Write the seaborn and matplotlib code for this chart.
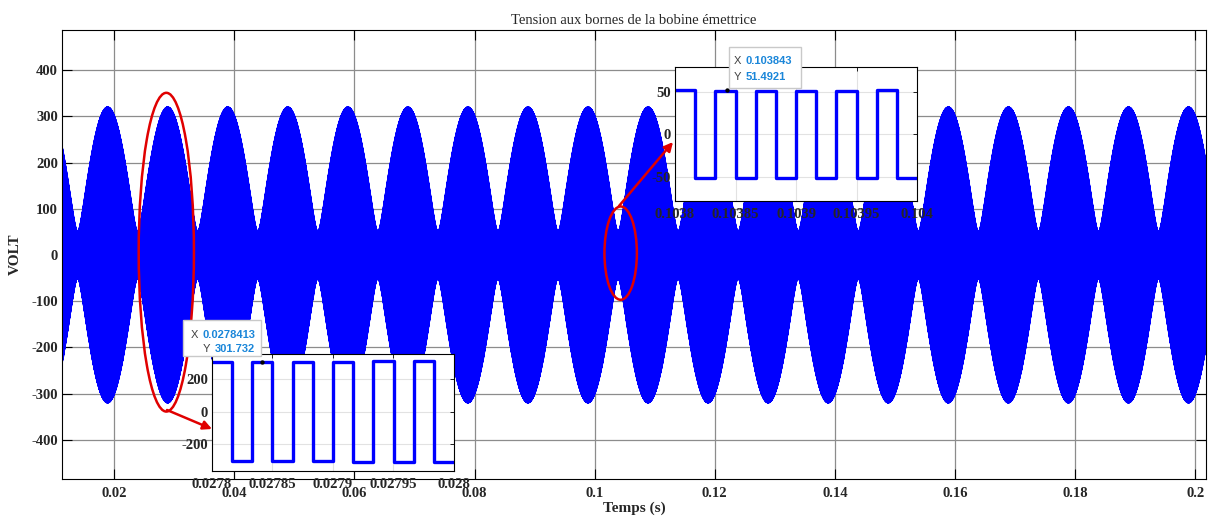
import numpy as np
import pandas as pd
import matplotlib
matplotlib.use("Agg")
import matplotlib.pyplot as plt
import seaborn as sns
from matplotlib.patches import Ellipse, FancyArrowPatch, Rectangle
from matplotlib.font_manager import FontProperties
from matplotlib.text import Annotation

# ---------------- data ----------------
TITLE = "Tension aux bornes de la bobine émettrice"
XLABEL = "Temps (s)"
YLABEL = "VOLT"

T_START, T_END = 0.0113, 0.2018          # visible time span (s)
CARRIER_HZ = 30000                        # square-wave carrier frequency
ENV_MAX = 320.0                           # envelope maximum (V)
ENV_MIN = 51.0                            # envelope minimum (V)
ENV_PERIOD = 0.01                         # beat period (s)
ENV_PEAK_T = 0.0289                       # time of one envelope maximum (s)

main_xticks = [0.02, 0.04, 0.06, 0.08, 0.1, 0.12, 0.14, 0.16, 0.18, 0.2]
main_xticklabels = ["0.02", "0.04", "0.06", "0.08", "0.1", "0.12", "0.14", "0.16", "0.18", "0.2"]
main_yticks = [-400, -300, -200, -100, 0, 100, 200, 300, 400]
main_ylim = (-485, 487)

zoom1_window = (0.0278, 0.028)
zoom1_xticks = [0.0278, 0.02785, 0.0279, 0.02795, 0.028]
zoom1_xticklabels = ["0.0278", "0.02785", "0.0279", "0.02795", "0.028"]
zoom1_yticks = [-200, 0, 200]
zoom1_ylim = (-363, 351)

zoom2_window = (0.1038, 0.104)
zoom2_xticks = [0.1038, 0.10385, 0.1039, 0.10395, 0.104]
zoom2_xticklabels = ["0.1038", "0.10385", "0.1039", "0.10395", "0.104"]
zoom2_yticks = [-50, 0, 50]
zoom2_ylim = (-78.5, 79)

tip1_x, tip1_y = 0.0278413, 301.732
tip1_text = ("0.0278413", "301.732")
tip2_x, tip2_y = 0.103843, 51.4921
tip2_text = ("0.103843", "51.4921")


def envelope(t):
    a = (ENV_MAX + ENV_MIN) / 2.0
    b = (ENV_MAX - ENV_MIN) / 2.0
    return np.sqrt(a * a + b * b + 2 * a * b * np.cos(2 * np.pi * (t - ENV_PEAK_T) / ENV_PERIOD))


def square_signal(t0, t1):
    half = 0.5 / CARRIER_HZ
    k0 = int(np.floor(t0 / half + 1e-6))
    k1 = int(np.ceil(t1 / half - 1e-6))
    k = np.arange(k0, k1)
    starts = k * half
    ends = (k + 1) * half
    sign = np.where(k % 2 == 0, 1.0, -1.0)
    v = sign * envelope(starts + half / 2)
    t = np.clip(np.column_stack([starts, ends]).ravel(), t0, t1)
    y = np.repeat(v, 2)
    return pd.DataFrame({"t": t, "v": y})


main_df = square_signal(T_START, T_END)
z1_df = square_signal(*zoom1_window)
z2_df = square_signal(*zoom2_window)

# ---------------- styling ----------------
sns.set_theme(style="white")
plt.rcParams["font.family"] = ["Liberation Serif", "DejaVu Serif"]
plt.rcParams["axes.edgecolor"] = "black"
plt.rcParams["axes.linewidth"] = 0.8

BLUE = "#0000ff"
RED = "#e00000"
TICKFONT = dict(family=["Liberation Serif", "DejaVu Serif"], weight="bold", size=10.5)

W, H = 1210, 522
fig = plt.figure(figsize=(W / 100, H / 100), dpi=100)


def px_rect(x0, y0, x1, y1):
    return [x0 / W, 1 - y1 / H, (x1 - x0) / W, (y1 - y0) / H]


def fig_pt(x, y):
    return (x / W, 1 - y / H)


# ---------------- main axes ----------------
ax = fig.add_axes(px_rect(62, 30, 1206, 479))
ax.set_axisbelow(True)
ax.grid(True, color="#8c8c8c", lw=0.9)
sns.lineplot(data=main_df, x="t", y="v", estimator=None, sort=False,
             color=BLUE, lw=1.0, ax=ax)
ax.set_xlim(T_START, T_END)
ax.set_ylim(*main_ylim)
ax.set_xticks(main_xticks)
ax.set_xticklabels(main_xticklabels)
ax.set_yticks(main_yticks)
ax.set_yticklabels([str(v) for v in main_yticks])
ax.tick_params(direction="in", length=7, width=0.8, color="black",
               top=True, right=True, bottom=True, left=True)
ax.tick_params(axis="x", pad=6)
ax.tick_params(axis="y", pad=3)
for lab in ax.get_xticklabels() + ax.get_yticklabels():
    lab.set_fontproperties(FontProperties(**TICKFONT))
for s in ax.spines.values():
    s.set_visible(True)
    s.set_color("black")
ax.set_title(TITLE, fontsize=10.5, fontweight="normal", pad=4,
             family=["Liberation Serif", "DejaVu Serif"])
ax.set_xlabel(XLABEL, fontsize=11, fontweight="bold")
ax.set_ylabel(YLABEL, fontsize=11, fontweight="bold")
ax.xaxis.set_label_coords(0.5, -0.05)
ax.yaxis.set_label_coords(-0.035, 0.5)

# red ellipses around the zoomed regions
ax.add_patch(Ellipse((0.02867, 6), 0.0092, 690, fill=False, ec=RED, lw=1.8, zorder=5))
ax.add_patch(Ellipse((0.10433, 4), 0.0054, 202, fill=False, ec=RED, lw=1.8, zorder=5))


# ---------------- insets ----------------
def make_inset(rect, df, window, xticks, xticklabels, yticks, ylim):
    ia = fig.add_axes(rect)
    ia.set_facecolor("white")
    ia.set_axisbelow(True)
    ia.grid(True, color="#e2e2e2", lw=0.8)
    sns.lineplot(data=df, x="t", y="v", estimator=None, sort=False,
                 color=BLUE, lw=2.4, ax=ia)
    ia.set_xlim(*window)
    ia.set_ylim(*ylim)
    ia.set_xticks(xticks)
    ia.set_xticklabels(xticklabels)
    ia.set_yticks(yticks)
    ia.set_yticklabels([str(v) for v in yticks])
    ia.tick_params(direction="in", length=3, width=0.6, color="black",
                   top=True, right=True)
    ia.tick_params(axis="x", pad=5)
    ia.tick_params(axis="y", pad=3)
    for lab in ia.get_xticklabels() + ia.get_yticklabels():
        lab.set_fontproperties(FontProperties(**TICKFONT))
    ia.set_xlabel("")
    ia.set_ylabel("")
    for s in ia.spines.values():
        s.set_visible(True)
        s.set_color("black")
        s.set_linewidth(0.8)
    return ia


ia1 = make_inset(px_rect(212, 354, 454, 471), z1_df, zoom1_window,
                 zoom1_xticks, zoom1_xticklabels, zoom1_yticks, zoom1_ylim)
ia2 = make_inset(px_rect(675, 67, 917, 201), z2_df, zoom2_window,
                 zoom2_xticks, zoom2_xticklabels, zoom2_yticks, zoom2_ylim)

sns.scatterplot(x=[tip1_x], y=[tip1_y], color="black", s=10, ax=ia1, zorder=6, linewidth=0)
sns.scatterplot(x=[tip2_x], y=[tip2_y], color="black", s=10, ax=ia2, zorder=6, linewidth=0)

# ---------------- arrows ----------------
for a, b in [((167, 410), (212, 429)), ((619, 206), (673, 142))]:
    fig.add_artist(FancyArrowPatch(fig_pt(*a), fig_pt(*b), transform=fig.transFigure,
                                   arrowstyle="-|>", mutation_scale=13, color=RED,
                                   lw=1.8, shrinkA=0, shrinkB=0, zorder=5))

# ---------------- data tips ----------------
TIPBLUE = "#1a86d9"
TIPGRAY = "#404040"
tipfont = ["Liberation Sans", "DejaVu Sans"]


def data_tip(box, lines, value_x, align):
    x0, y0, x1, y1 = box
    fig.add_artist(Rectangle(fig_pt(x0, y1), (x1 - x0) / W, (y1 - y0) / H,
                             transform=fig.transFigure, fc="white", ec="#c9c9c9",
                             lw=1.0, zorder=6))
    for (lab, val, ly) in lines:
        if align == "right":
            vt = fig.text(value_x / W, 1 - ly / H, val, ha="right", va="center",
                          color=TIPBLUE, fontsize=8, fontweight="bold",
                          family=tipfont, zorder=7)
            fig.add_artist(Annotation(
                lab, xy=(0, 0.5), xycoords=vt, xytext=(-3, 0), textcoords="offset points",
                ha="right", va="center", color=TIPGRAY, fontsize=8, family=tipfont,
                zorder=7))
        else:
            fig.text((value_x - 12) / W, 1 - ly / H, lab, ha="left", va="center",
                     color=TIPGRAY, fontsize=8, family=tipfont, zorder=7)
            fig.text(value_x / W, 1 - ly / H, val, ha="left", va="center",
                     color=TIPBLUE, fontsize=8, fontweight="bold",
                     family=tipfont, zorder=7)


data_tip((183, 320, 261, 356), [("X", tip1_text[0], 334.5), ("Y", tip1_text[1], 349.5)],
         255, "right")
data_tip((729, 47, 801, 88), [("X", tip2_text[0], 61.5), ("Y", tip2_text[1], 76.5)],
         746, "left")

fig.savefig("out.png", dpi=100)
